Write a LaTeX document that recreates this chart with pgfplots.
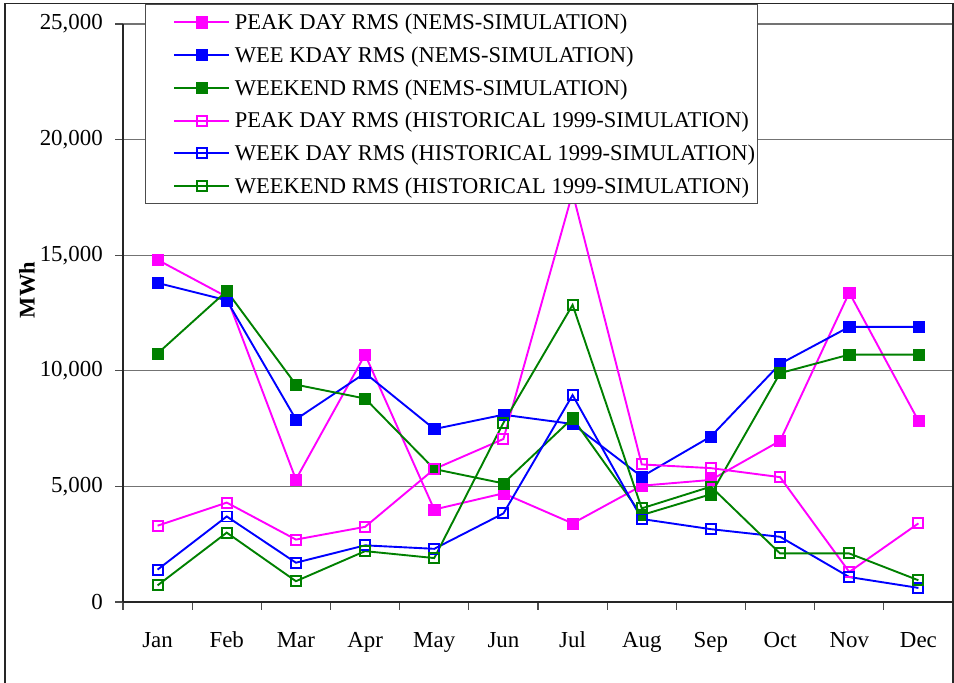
\documentclass[border=0pt]{standalone}
\usepackage{fontspec}
\setmainfont{Liberation Serif}
\usepackage{pgfplots}
\pgfplotsset{compat=1.18}
\definecolor{cMag}{HTML}{FF00FF}
\definecolor{cBlue}{HTML}{0000FF}
\definecolor{cGreen}{HTML}{008000}
\begin{document}
\begin{tikzpicture}
\useasboundingbox (-123bp,-81bp) rectangle (831bp,602bp);
\begin{axis}[
  at={(0,0)}, anchor=south west,
  scale only axis, width=830bp, height=578bp,
  xmin=-0.5, xmax=11.5, ymin=0, ymax=25000,
  axis lines=left, axis line style={-, line width=1.8bp, black!85},
  xtick={-0.5,0.5,...,11.5},
  xticklabels={Jan,Feb,Mar,Apr,May,Jun,Jul,Aug,Sep,Oct,Nov,Dec,{}},
  ytick={0,5000,...,25000},
  tick style={line width=1.3bp, black!70},
  major tick length=7.5bp,
  tick align=outside,
  ymajorgrids, grid style={line width=1.3bp, black!55},
  scaled y ticks=false,
  yticklabel style={/pgf/number format/1000 sep={,}, /pgf/number format/assume math mode=true, font=\fontsize{23}{23}\selectfont, inner sep=0pt, xshift=-12.5bp},
  xticklabel style={font=\fontsize{23}{23}\selectfont, inner sep=0pt, anchor=base, xshift=34.58bp, yshift=-38bp},
  ylabel={MWh},
  ylabel style={at={(axis description cs:-0.1157,0.5398)}, anchor=center, font=\fontsize{22.5}{22.5}\selectfont\bfseries},
  every axis plot/.append style={line width=1.9bp},
  legend cell align=left,
  legend style={at={(axis description cs:0.0265,1.0346)}, anchor=north west, draw=black!70, line width=1bp, fill=white, inner xsep=0pt, inner ysep=8bp, font=\fontsize{22.6}{22.6}\selectfont, row sep=13.4bp, nodes={inner xsep=2.5bp, inner ysep=0pt, text height=17bp, text depth=2.4bp}},
  legend image code/.code={\path (-28bp,0bp) (57bp,0bp); \draw[mark repeat=2, mark phase=2, #1] plot coordinates {(0bp,0bp) (27.5bp,0bp) (55bp,0bp)};},
]
\addplot[cMag, mark=square*, mark size=5.6bp, mark options={line width=0.5bp, fill=cMag}] coordinates {(0,14800)(1,13200)(2,5300)(3,10700)(4,4000)(5,4700)(6,3400)(7,5030)(8,5280)(9,6970)(10,13380)(11,7840)};
\addlegendentry{PEAK DAY RMS (NEMS-SIMULATION)}
\addplot[cBlue, mark=square*, mark size=5.6bp, mark options={line width=0.5bp, fill=cBlue}] coordinates {(0,13800)(1,13050)(2,7900)(3,9900)(4,7480)(5,8100)(6,7700)(7,5420)(8,7160)(9,10300)(10,11900)(11,11900)};
\addlegendentry{WEE KDAY RMS (NEMS-SIMULATION)}
\addplot[cGreen, mark=square*, mark size=5.6bp, mark options={line width=0.5bp, fill=cGreen}] coordinates {(0,10750)(1,13450)(2,9400)(3,8800)(4,5750)(5,5130)(6,7950)(7,3760)(8,4660)(9,9900)(10,10700)(11,10700)};
\addlegendentry{WEEKEND RMS (NEMS-SIMULATION)}
\addplot[cMag, mark=square, mark size=5bp, mark options={line width=1.9bp}] coordinates {(0,3300)(1,4300)(2,2700)(3,3250)(4,5750)(5,7050)(6,17700)(7,5950)(8,5790)(9,5400)(10,1300)(11,3400)};
\addlegendentry{PEAK DAY RMS (HISTORICAL 1999-SIMULATION)}
\addplot[cBlue, mark=square, mark size=5bp, mark options={line width=1.9bp}] coordinates {(0,1400)(1,3700)(2,1700)(3,2450)(4,2300)(5,3830)(6,8950)(7,3590)(8,3150)(9,2820)(10,1080)(11,610)};
\addlegendentry{WEEK DAY RMS (HISTORICAL 1999-SIMULATION)}
\addplot[cGreen, mark=square, mark size=5bp, mark options={line width=1.9bp}] coordinates {(0,720)(1,3000)(2,900)(3,2200)(4,1900)(5,7750)(6,12850)(7,4050)(8,4990)(9,2100)(10,2100)(11,940)};
\addlegendentry{WEEKEND RMS (HISTORICAL 1999-SIMULATION)}
\end{axis}
\draw[line width=1.5bp, black!85] (-118bp,-100bp) -- (-118bp,598.5bp) -- (830bp,598.5bp) -- (830bp,-100bp);
\end{tikzpicture}
\end{document}
